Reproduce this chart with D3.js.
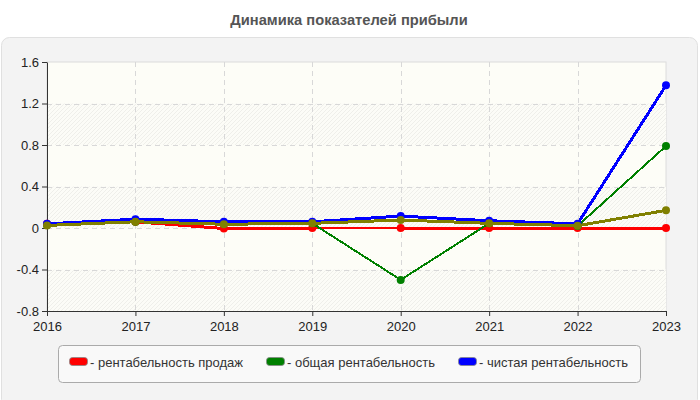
<!DOCTYPE html>
<html>
<head>
<meta charset="utf-8">
<script src="https://cdn.jsdelivr.net/npm/d3@7"></script>
<style>
  body { margin: 0; background: #fff; }
  svg { display: block; font-family: "Liberation Sans", Arial, sans-serif; }
</style>
</head>
<body>
<svg id="chart"></svg>
<script>
//Data
const years = [2016, 2017, 2018, 2019, 2020, 2021, 2022, 2023];
const salesProfit = [0.04, 0.06, -0.005, 0, 0, 0, 0, 0];
const totalProfit = [0.03, 0.06, 0.04, 0.045, -0.5, 0.045, 0.02, 0.79];
const netProfit = [0.04, 0.085, 0.06, 0.06, 0.115, 0.07, 0.04, 1.375];
const otherProfit = [0.025, 0.06, 0.036, 0.045, 0.077, 0.045, 0.022, 0.17];
const yTicks = [-0.8, -0.4, 0, 0.4, 0.8, 1.2, 1.6];
const legendLabels = ["- рентабельность продаж", "- общая рентабельность", "- чистая рентабельность"];

const series = [
  {values: salesProfit, color: "#ff0000", width: 3},
  {values: totalProfit, color: "#008000", width: 2},
  {values: netProfit, color: "#0000ff", width: 3},
  {values: otherProfit, color: "#808000", width: 3}
];

const w = 700;
const h = 400;
const plotLeft = 47, plotRight = 666, plotTop = 62, plotBottom = 311;

const svg = d3.select("#chart").attr("width", w).attr("height", h);

//Title
svg.append("text")
   .attr("x", w / 2 - 1)
   .attr("y", 25)
   .attr("text-anchor", "middle")
   .attr("font-size", 14.7)
   .attr("font-weight", "bold")
   .attr("fill", "#555")
   .text("Динамика показателей прибыли");

//Panel
svg.append("rect")
   .attr("x", 1.5).attr("y", 37.5)
   .attr("width", 696).attr("height", 370)
   .attr("rx", 8)
   .attr("fill", "#f3f3f3")
   .attr("stroke", "#e0e0e0");

//Scales
const xScale = d3.scaleLinear().domain([2016, 2023]).range([plotLeft, plotRight]);
const yScale = d3.scaleLinear().domain([-0.8, 1.6]).range([plotBottom, plotTop]);

//Hatch pattern
const defs = svg.append("defs");
const pat = defs.append("pattern")
   .attr("id", "hatch")
   .attr("patternUnits", "userSpaceOnUse")
   .attr("width", 4).attr("height", 4);
pat.append("rect").attr("width", 4).attr("height", 4).attr("fill", "#fcfcf7");
pat.append("path").attr("d", "M-1,1 l2,-2 M0,4 l4,-4 M3,5 l2,-2")
   .attr("stroke", "#efefea").attr("stroke-width", 1);

//Plot background bands
svg.append("rect")
   .attr("x", plotLeft).attr("y", plotTop)
   .attr("width", plotRight - plotLeft).attr("height", plotBottom - plotTop)
   .attr("fill", "#fdfdf7")
   .attr("stroke", "#dcdcdc");

const bands = yTicks.slice(0, -1).filter((d, i) => i % 2 === 0);
svg.selectAll(".band")
   .data(bands)
   .enter()
   .append("rect")
   .attr("x", plotLeft)
   .attr("y", d => yScale(d + 0.4))
   .attr("width", plotRight - plotLeft)
   .attr("height", d => yScale(d) - yScale(d + 0.4))
   .attr("fill", "url(#hatch)");

//Grid
svg.selectAll(".hgrid")
   .data(yTicks.slice(1, -1))
   .enter()
   .append("line")
   .attr("x1", plotLeft).attr("x2", plotRight)
   .attr("y1", d => Math.round(yScale(d)) + 0.5)
   .attr("y2", d => Math.round(yScale(d)) + 0.5)
   .attr("stroke", "#d8d8d8")
   .attr("stroke-dasharray", "5,4");

svg.selectAll(".vgrid")
   .data(years.slice(1, -1))
   .enter()
   .append("line")
   .attr("y1", plotTop).attr("y2", plotBottom)
   .attr("x1", d => Math.round(xScale(d)) + 0.5)
   .attr("x2", d => Math.round(xScale(d)) + 0.5)
   .attr("stroke", "#d8d8d8")
   .attr("stroke-dasharray", "5,4");

//Axes
const xAxis = d3.axisBottom(xScale).tickValues(years).tickFormat(d3.format("d")).tickSize(5).tickSizeOuter(0);
const yAxis = d3.axisLeft(yScale).tickValues(yTicks).tickFormat(d => String(+d.toFixed(1))).tickSize(5).tickSizeOuter(0);

const gx = svg.append("g")
   .attr("transform", "translate(0," + plotBottom + ")")
   .call(xAxis);
const gy = svg.append("g")
   .attr("transform", "translate(" + plotLeft + ",0)")
   .call(yAxis);

[gx, gy].forEach(g => {
  g.select(".domain").attr("stroke", "#333");
  g.selectAll(".tick line").attr("stroke", "#333");
  g.selectAll("text").attr("font-size", 13).attr("fill", "#222").attr("font-family", "\"Liberation Sans\", Arial, sans-serif");
});
gx.selectAll("text").attr("dy", "0.95em");

//Lines
const line = d3.line()
   .x((d, i) => xScale(years[i]))
   .y(d => yScale(d));

series.forEach(s => {
  svg.append("path")
     .datum(s.values)
     .attr("d", line)
     .attr("fill", "none")
     .attr("stroke", s.color)
     .attr("stroke-width", s.width)
     .attr("shape-rendering", "crispEdges");
  svg.selectAll(null)
     .data(s.values)
     .enter()
     .append("circle")
     .attr("cx", (d, i) => xScale(years[i]))
     .attr("cy", d => yScale(d))
     .attr("r", 4)
     .attr("fill", s.color);
});

//Legend
svg.append("rect")
   .attr("x", 58.5).attr("y", 345.5)
   .attr("width", 582).attr("height", 37)
   .attr("rx", 4)
   .attr("fill", "#f9f9f9")
   .attr("stroke", "#aaa");

const legendX = [69, 266, 458];
legendLabels.forEach((label, i) => {
  svg.append("rect")
     .attr("x", legendX[i] + 0.5).attr("y", 357.5)
     .attr("width", 18).attr("height", 8)
     .attr("rx", 3)
     .attr("fill", series[i].color)
     .attr("stroke", "#888")
     .attr("stroke-width", 0.8);
  svg.append("text")
     .attr("x", legendX[i] + 21)
     .attr("y", 366.5)
     .attr("font-size", 13)
     .attr("fill", "#333")
     .text(label);
});
</script>
</body>
</html>
